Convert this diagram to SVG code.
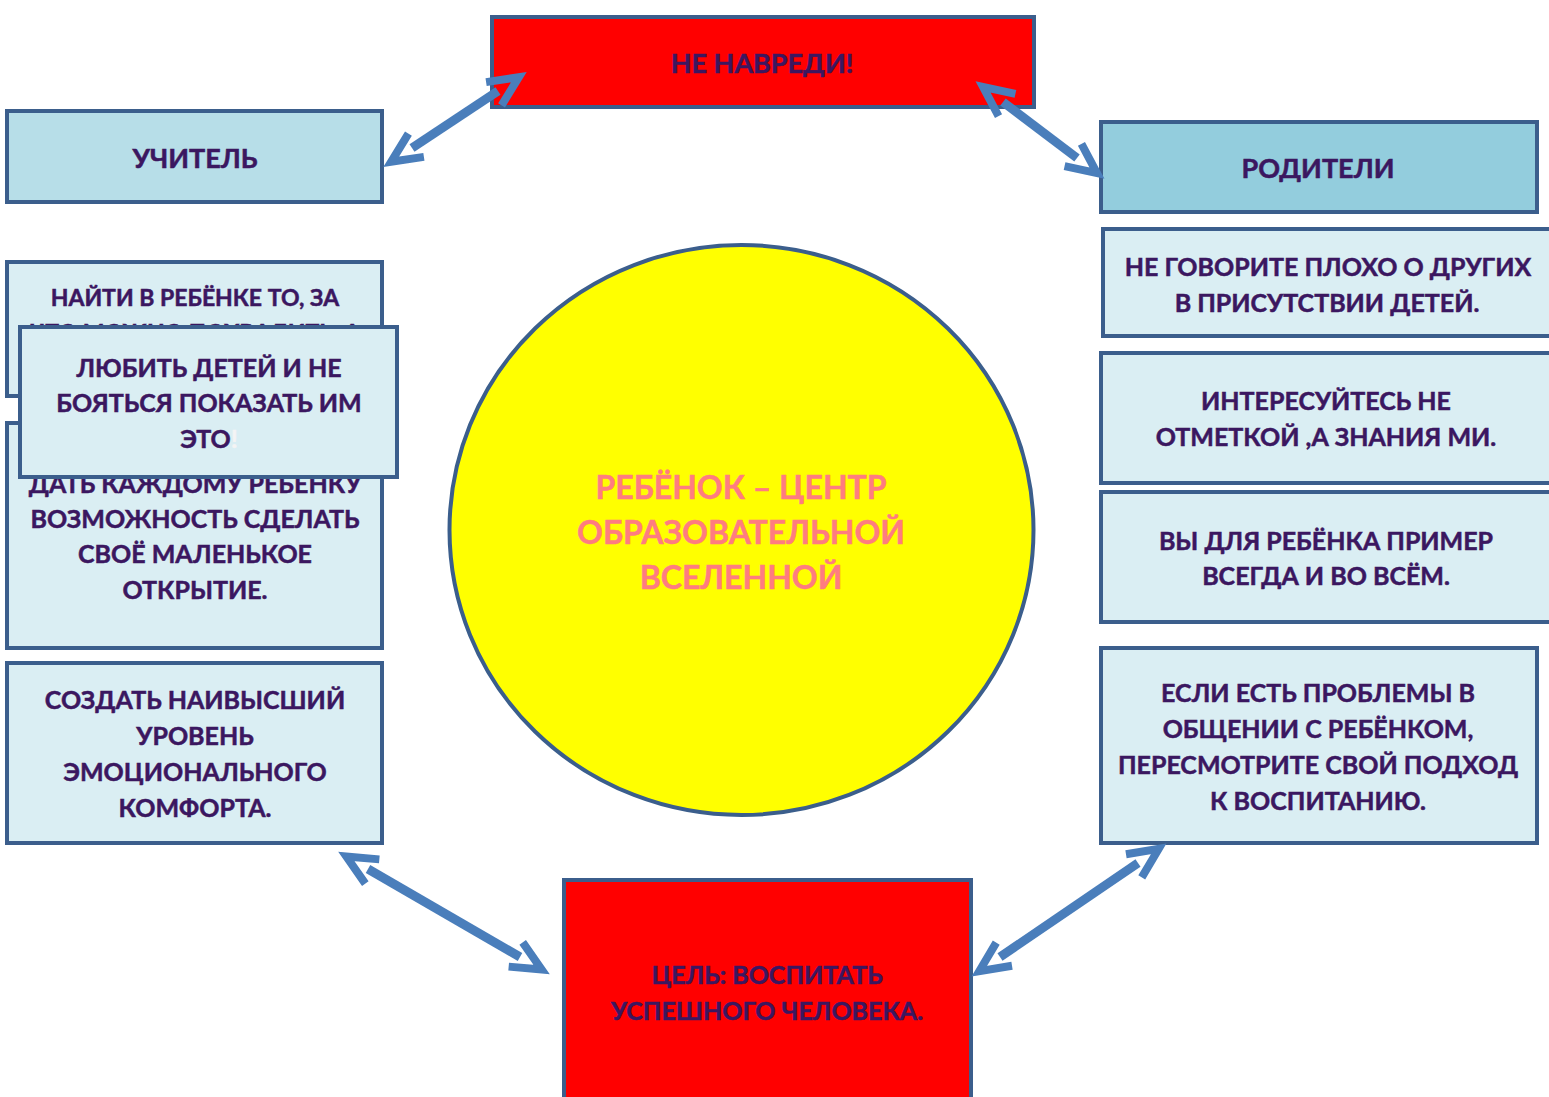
<svg xmlns="http://www.w3.org/2000/svg" width="1549" height="1097" viewBox="0 0 1549 1097">
<style>
.box{stroke:#3B5E8C;stroke-width:4}
.lt{fill:#DAEEF3}
.red{fill:#FF0000}
.t{font-family:Lato,"Liberation Sans",sans-serif;font-weight:bold;font-size:25px;fill:#3B1760;stroke:#3B1760;stroke-width:0.5;text-anchor:middle}
.h{font-size:27px}
.s{font-size:23px}
.c{font-size:32px;fill:#FF7C80;stroke:#FF7C80}
.arr{stroke:#4A7EBB;stroke-width:9;fill:none;marker-start:url(#ch);marker-end:url(#ch)}
</style>
<defs>
<marker id="ch" markerUnits="userSpaceOnUse" orient="auto-start-reverse" refX="0" refY="0" markerWidth="60" markerHeight="60" viewBox="-10 -30 60 60" overflow="visible">
<path d="M -5 -14 L 25 0 L -5 14" fill="none" stroke="#4A7EBB" stroke-width="8" stroke-linejoin="miter"/>
</marker>
</defs>
<rect width="1549" height="1097" fill="#FFFFFF"/>
<g id="center">
<ellipse cx="741.5" cy="530" rx="292" ry="285" fill="#FFFF00" stroke="#3B5E8C" stroke-width="4"/>
<text class="t c" x="741" y="499">РЕБЁНОК – ЦЕНТР</text>
<text class="t c" x="741" y="544">ОБРАЗОВАТЕЛЬНОЙ</text>
<text class="t c" x="741" y="589">ВСЕЛЕННОЙ</text>
</g>
<g id="ne-navredi">
<rect class="box red" x="492" y="17" width="542" height="90"/>
<text class="t h" x="762" y="73">НЕ НАВРЕДИ!</text>
</g>
<g id="uchitel">
<rect class="box" x="7" y="111" width="375" height="91" fill="#B7DEE8"/>
<text class="t h" x="195" y="168">УЧИТЕЛЬ</text>
</g>
<g id="roditeli">
<rect class="box" x="1101" y="122" width="436" height="90" fill="#93CDDD"/>
<text class="t h" x="1318" y="178">РОДИТЕЛИ</text>
</g>
<g id="r1">
<rect class="box lt" x="1103" y="229" width="460" height="107"/>
<text class="t" x="1328" y="276">НЕ ГОВОРИТЕ ПЛОХО О ДРУГИХ</text>
<text class="t" x="1327" y="312">В ПРИСУТСТВИИ ДЕТЕЙ.</text>
</g>
<g id="r2">
<rect class="box lt" x="1101" y="353" width="462" height="130"/>
<text class="t" x="1326" y="410">ИНТЕРЕСУЙТЕСЬ НЕ</text>
<text class="t" x="1326" y="446">ОТМЕТКОЙ ,А ЗНАНИЯ МИ.</text>
</g>
<g id="r3">
<rect class="box lt" x="1101" y="492" width="462" height="130"/>
<text class="t" x="1326" y="550">ВЫ ДЛЯ РЕБЁНКА ПРИМЕР</text>
<text class="t" x="1326" y="585">ВСЕГДА И ВО ВСЁМ.</text>
</g>
<g id="r4">
<rect class="box lt" x="1101" y="648" width="436" height="195"/>
<text class="t" x="1318" y="702">ЕСЛИ ЕСТЬ ПРОБЛЕМЫ В</text>
<text class="t" x="1318" y="738">ОБЩЕНИИ С РЕБЁНКОМ,</text>
<text class="t" x="1318" y="774">ПЕРЕСМОТРИТЕ СВОЙ ПОДХОД</text>
<text class="t" x="1318" y="810">К ВОСПИТАНИЮ.</text>
</g>
<g id="l1">
<rect class="box lt" x="7" y="262" width="375" height="134"/>
<text class="t s" x="195" y="306">НАЙТИ В РЕБЁНКЕ ТО, ЗА</text>
<text class="t s" x="195" y="341">ЧТО МОЖНО ПОХВАЛИТЬ, А</text>
</g>
<g id="l2">
<rect class="box lt" x="7" y="423" width="375" height="225"/>
<text class="t" x="195" y="493">ДАТЬ КАЖДОМУ РЕБЕНКУ</text>
<text class="t" x="195" y="528">ВОЗМОЖНОСТЬ СДЕЛАТЬ</text>
<text class="t" x="195" y="563">СВОЁ МАЛЕНЬКОЕ</text>
<text class="t" x="195" y="599">ОТКРЫТИЕ.</text>
</g>
<g id="l-love">
<rect class="box lt" x="20" y="327" width="377" height="150"/>
<text class="t" x="209" y="377">ЛЮБИТЬ ДЕТЕЙ И НЕ</text>
<text class="t" x="209" y="412">БОЯТЬСЯ ПОКАЗАТЬ ИМ</text>
<text class="t" x="209" y="448">ЭТО<tspan fill="#F4F4F4" stroke="#F4F4F4">!</tspan></text>
</g>
<g id="l3">
<rect class="box lt" x="7" y="663" width="375" height="180"/>
<text class="t" x="195" y="709">СОЗДАТЬ НАИВЫСШИЙ</text>
<text class="t" x="195" y="745">УРОВЕНЬ</text>
<text class="t" x="195" y="781">ЭМОЦИОНАЛЬНОГО</text>
<text class="t" x="195" y="817">КОМФОРТА.</text>
</g>
<g id="goal">
<rect class="box red" x="564" y="880" width="407" height="240"/>
<text class="t" x="767" y="984">ЦЕЛЬ: ВОСПИТАТЬ</text>
<text class="t" x="767" y="1020">УСПЕШНОГО ЧЕЛОВЕКА.</text>
</g>
<g id="connectors">
<line class="arr" x1="498" y1="91" x2="412" y2="148"/>
<line class="arr" x1="1003" y1="102" x2="1077" y2="158"/>
<line class="arr" x1="368" y1="869" x2="520" y2="957"/>
<line class="arr" x1="1138" y1="863" x2="1000" y2="957"/>
</g>
</svg>
